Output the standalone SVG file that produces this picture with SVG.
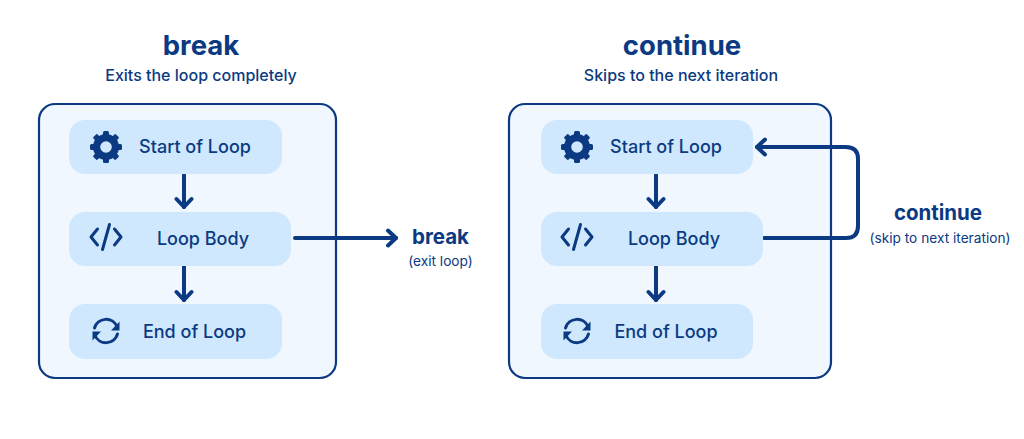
<svg xmlns="http://www.w3.org/2000/svg" width="1024" height="439" viewBox="0 0 1024 439">
<style>
text{font-family:Inter,"Liberation Sans",sans-serif;fill:#0b3a82;text-anchor:middle}
.title{font-size:27.500px;font-weight:700}
.sub{font-size:16px;font-weight:500}
.lab{font-size:18px;font-weight:500}
.out{font-size:20.500px;font-weight:700}
.note{font-size:13.700px;font-weight:400}
.panel{fill:#f0f7ff;stroke:#0b3a82;stroke-width:2.200}
.box{fill:#cfe8fd}
.con{fill:none;stroke:#0b3a82;stroke-width:4;stroke-linecap:round;stroke-linejoin:round}
.ic{fill:none;stroke:#0b3a82;stroke-width:3;stroke-linecap:round;stroke-linejoin:round}
</style>
<defs>
<g id="gear"><circle r="9.500" fill="none" stroke="#0b3a82" stroke-width="7"/>
<g fill="#0b3a82"><rect x="-3" y="-16" width="6" height="32" rx="1.500"/><rect x="-3" y="-16" width="6" height="32" rx="1.500" transform="rotate(45)"/><rect x="-3" y="-16" width="6" height="32" rx="1.500" transform="rotate(90)"/><rect x="-3" y="-16" width="6" height="32" rx="1.500" transform="rotate(135)"/></g>
<circle r="5.800" fill="#cfe8fd"/></g>
<g id="code" class="ic"><path d="M-8.500 -8 L-15 0 L-8.500 8M8.500 -8 L15 0 L8.500 8M3.500 -12.500 L-3.500 12.500"/></g>
<g id="sync"><path class="ic" d="M-11.500 -3 A12 12 0 0 1 11 -4.500M11.500 3 A12 12 0 0 1 -11 4.500"/><path fill="#0b3a82" d="M13.500 -9.500 V-0.500 H5 ZM-13.500 9.500 V0.500 H-5 Z"/></g>
<marker id="ah" markerUnits="userSpaceOnUse" markerWidth="20" markerHeight="20" refX="15" refY="10" orient="auto"><path d="M7 2.500 L15 10 L7 17.500" fill="none" stroke="#0b3a82" stroke-width="4" stroke-linecap="round" stroke-linejoin="round"/></marker>
</defs>
<rect width="1024" height="439" fill="#fff"/>
<text class="title" x="201" y="55">break</text>
<text class="sub" x="201" y="81">Exits the loop completely</text>
<text class="title" x="682" y="55">continue</text>
<text class="sub" x="681" y="81">Skips to the next iteration</text>
<rect class="panel" x="39" y="104" width="297" height="274" rx="16"/>
<rect class="panel" x="509" y="104" width="322" height="274" rx="16"/>
<g id="connectors">
<path class="con" marker-end="url(#ah)" d="M184 175 V207"/>
<path class="con" marker-end="url(#ah)" d="M184 266 V300"/>
<path class="con" marker-end="url(#ah)" d="M295 238 H396"/>
<path class="con" marker-end="url(#ah)" d="M656 175 V207"/>
<path class="con" marker-end="url(#ah)" d="M656 266 V300"/>
<path class="con" marker-end="url(#ah)" d="M764 238 H846 Q858 238 858 226 V159 Q858 147 846 147 H757"/>
</g>
<g id="break-start"><rect class="box" x="69" y="120" width="213" height="54" rx="16"/><use href="#gear" x="106" y="147"/><text class="lab" x="195" y="153">Start of Loop</text></g>
<g id="break-body"><rect class="box" x="69" y="212" width="222" height="54" rx="16"/><use href="#code" x="106" y="237"/><text class="lab" x="203" y="245">Loop Body</text></g>
<g id="break-end"><rect class="box" x="69" y="304" width="213" height="55" rx="16"/><use href="#sync" x="106" y="331"/><text class="lab" x="194.500" y="338">End of Loop</text></g>
<g id="break-label"><text class="out" x="440.500" y="244">break</text><text class="note" x="440.500" y="265.500">(exit loop)</text></g>
<g id="continue-start"><rect class="box" x="541" y="120" width="212" height="54" rx="16"/><use href="#gear" x="577" y="147"/><text class="lab" x="666" y="153">Start of Loop</text></g>
<g id="continue-body"><rect class="box" x="541" y="212" width="222" height="54" rx="16"/><use href="#code" x="577" y="237"/><text class="lab" x="674" y="245">Loop Body</text></g>
<g id="continue-end"><rect class="box" x="541" y="304" width="212" height="55" rx="16"/><use href="#sync" x="577" y="331"/><text class="lab" x="666" y="338">End of Loop</text></g>
<g id="continue-label"><text class="out" x="938" y="220">continue</text><text class="note" x="940" y="242.500">(skip to next iteration)</text></g>
</svg>
